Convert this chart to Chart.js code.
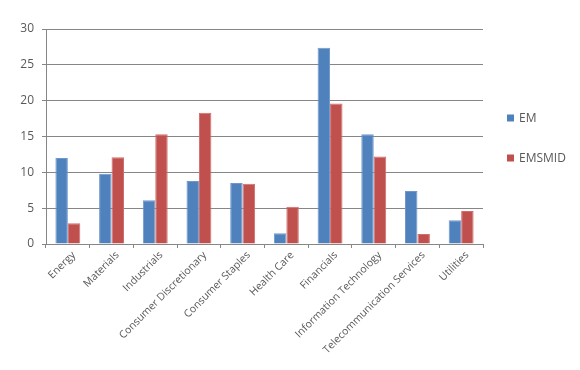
<!DOCTYPE html>
<html>
<head>
<meta charset="utf-8">
<script src="https://cdn.jsdelivr.net/npm/chart.js@4.4.0/dist/chart.umd.min.js"></script>
<style>
    html, body { margin: 0; padding: 0; background: #fff; }
    #wrap { width: 580px; height: 370px; }
</style>
</head>
<body>
<div id="wrap"><canvas id="chart" width="580" height="370"></canvas></div>
<script>
const sectors = ['Energy', 'Materials', 'Industrials', 'Consumer Discretionary', 'Consumer Staples',
    'Health Care', 'Financials', 'Information Technology', 'Telecommunication Services', 'Utilities'];
const emValues = [12.0, 9.8, 6.1, 8.8, 8.5, 1.5, 27.4, 15.3, 7.4, 3.3];
const emsmidValues = [2.9, 12.1, 15.3, 18.3, 8.4, 5.2, 19.6, 12.2, 1.4, 4.6];
const yTicks = [0, 5, 10, 15, 20, 25, 30];

const textColor = '#595959';
const fontFamily = '"Open Sans", "Noto Sans", sans-serif';

// legend on the right, drawn next to the plot area
const sideLegend = {
    id: 'sideLegend',
    afterDraw(chart) {
        const ctx = chart.ctx;
        const area = chart.chartArea;
        const mid = (area.top + area.bottom) / 2 + 2;
        const sets = chart.data.datasets;
        ctx.save();
        ctx.font = '12px ' + fontFamily;
        ctx.textBaseline = 'middle';
        sets.forEach((ds, i) => {
            const y = mid + (i - (sets.length - 1) / 2) * 40;
            const x = area.right + 24;
            ctx.fillStyle = ds.backgroundColor;
            ctx.fillRect(x, y - 4, 7, 7);
            ctx.fillStyle = textColor;
            ctx.fillText(ds.label, x + 12, y);
        });
        ctx.restore();
    }
};

new Chart(document.getElementById('chart'), {
    type: 'bar',
    data: {
        labels: sectors,
        datasets: [{
            label: 'EM',
            data: emValues,
            backgroundColor: '#4F81BD',
            borderColor: '#6D98CC',
            borderWidth: 1
        }, {
            label: 'EMSMID',
            data: emsmidValues,
            backgroundColor: '#C0504D',
            borderColor: '#D06E6B',
            borderWidth: 1
        }]
    },
    options: {
        responsive: false,
        animation: false,
        layout: {
            padding: { left: 0, top: 29, right: 97, bottom: 0 }
        },
        datasets: {
            bar: { categoryPercentage: 0.57, barPercentage: 1.0 }
        },
        plugins: {
            legend: { display: false },
            tooltip: { enabled: false }
        },
        scales: {
            x: {
                afterFit: scale => { scale.height = 126; },
                grid: {
                    drawOnChartArea: false,
                    drawTicks: true,
                    tickLength: 4,
                    color: '#868686',
                    offset: true
                },
                border: { color: '#868686', width: 1 },
                ticks: {
                    color: textColor,
                    font: { family: fontFamily, size: 10.5 },
                    maxRotation: 45,
                    minRotation: 45,
                    autoSkip: false,
                    padding: 1,
                    labelOffset: 6
                }
            },
            y: {
                min: 0,
                max: 30,
                afterFit: scale => { scale.width = 46; },
                afterBuildTicks: scale => { scale.ticks = yTicks.map(v => ({ value: v })); },
                grid: {
                    color: '#868686',
                    tickLength: 4,
                    lineWidth: 1
                },
                border: { color: '#868686', width: 1 },
                ticks: {
                    color: textColor,
                    font: { family: fontFamily, size: 12 },
                    padding: 8
                }
            }
        }
    },
    plugins: [sideLegend]
});
</script>
</body>
</html>
